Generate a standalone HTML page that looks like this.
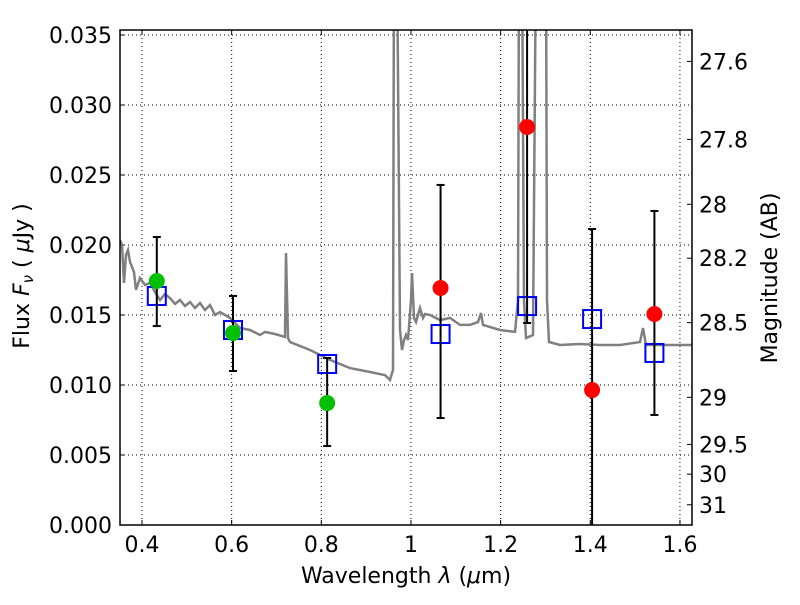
<!DOCTYPE html>
<html><head><meta charset="utf-8"><style>
body{margin:0;background:#fff;}
svg text{font-family:"DejaVu Sans","Liberation Sans",sans-serif;fill:#000;}
</style></head><body>
<svg id="chart" width="800" height="600" xmlns="http://www.w3.org/2000/svg"></svg>
<script>
const specLam=[];const specFlux=[];
const specPix=[[120,240],[122,245],[124,283],[126,255],[128,250],[130,262],[134,272],[136,290],[140,278],[145,285],[150,283],[155,292],[160,300],[165,294],[170,298],[175,304],[180,300],[185,306],[190,302],[195,308],[200,303],[205,310],[210,305],[215,315],[220,312],[230,318],[240,328],[250,330],[260,335],[265,332],[275,334],[285,337],[286,253],[288,338],[290,342],[310,350],[330,360],[350,368],[370,372],[385,375],[390,380],[393,370],[394,-50],[397,-50],[399,200],[400,330],[402,350],[404,340],[406,335],[408,340],[411,300],[412,273],[414,318],[416,322],[420,308],[423,318],[425,314],[430,315],[440,320],[450,318],[460,325],[470,325],[478,322],[481,313],[483,325],[500,330],[515,332],[518,300],[519,-50],[522,-50],[524,300],[526,338],[533,335],[536,-50],[546,-50],[547,300],[549,342],[560,345],[580,344],[600,345],[620,345],[640,342],[643,328],[646,345],[660,345],[692,345]];
specPix.forEach(p=>{specLam.push(+(0.4+(p[0]-142)/448.3).toFixed(4));specFlux.push(+((525-p[1])/14000).toFixed(5));});
const obsLam=[0.433,0.603,0.813,1.066,1.259,1.404,1.543];
const obsFlux=[0.01743,0.01371,0.00871,0.01693,0.02843,0.00964,0.01507];
const obsHi=[0.02057,0.01636,0.01193,0.02429,0.045,0.02114,0.02243];
const obsLo=[0.01421,0.0110,0.00564,0.00764,0.01443,-0.002,0.00786];
const obsColor=["#00c000","#00c000","#00c000","#ff0000","#ff0000","#ff0000","#ff0000"];
const modelFlux=[0.01636,0.01393,0.0115,0.01364,0.01564,0.01471,0.01229];
const xTicks=[0.4,0.6,0.8,1.0,1.2,1.4,1.6];
const xTickLabels=["0.4","0.6","0.8","1","1.2","1.4","1.6"];
const yTicks=[0,0.005,0.01,0.015,0.02,0.025,0.03,0.035];
const magTicks=[27.6,27.8,28,28.2,28.5,29,29.5,30,31];

const L=120,R=692,T=30,B=525;
const X=l=>142+(l-0.4)*448.3;
const Y=f=>525-f*14000;
const svg=document.getElementById('chart');
const NS="http://www.w3.org/2000/svg";
function mk(tag,at,parent){const e=document.createElementNS(NS,tag);for(const k in at)e.setAttribute(k,at[k]);(parent||svg).appendChild(e);return e;}
const defs=mk('defs',{});const cp=mk('clipPath',{id:'clip'},defs);mk('rect',{x:L,y:T,width:R-L,height:B-T},cp);
xTicks.forEach((t,i)=>{const g=mk('line',{x1:X(t),x2:X(t),y1:T,y2:B,stroke:'#000','stroke-dasharray':'1,3','stroke-width':1});

const tx=mk('text',{x:X(t),y:552,'font-size':22,'text-anchor':'middle'});tx.textContent=xTickLabels[i];

mk('line',{x1:X(t),x2:X(t),y1:B,y2:B-5,stroke:'#000'});mk('line',{x1:X(t),x2:X(t),y1:T,y2:T+5,stroke:'#000'});});
yTicks.forEach(t=>{const g=mk('line',{x1:L,x2:R,y1:Y(t),y2:Y(t),stroke:'#000','stroke-dasharray':'1,3','stroke-width':1});

const tx=mk('text',{x:112,y:Y(t)+8,'font-size':22,'text-anchor':'end'});tx.textContent=t.toFixed(3);

mk('line',{x1:L,x2:L+5,y1:Y(t),y2:Y(t),stroke:'#000'});});
const gPlot=mk('g',{'clip-path':'url(#clip)'});
let d='';specLam.forEach((l,i)=>{d+=(i?'L':'M')+X(l).toFixed(1)+','+Y(specFlux[i]).toFixed(1);});
const sp=mk('path',{d:d,fill:'none',stroke:'#808080','stroke-width':2.5},gPlot);

modelFlux.forEach((f,i)=>{const r=mk('rect',{x:X(obsLam[i])-9,y:Y(f)-9,width:18,height:18,fill:'none',stroke:'#0000ff','stroke-width':2},gPlot);
});
obsLam.forEach((l,i)=>{const x=X(l);
const e=mk('line',{x1:x,x2:x,y1:Y(obsHi[i]),y2:Y(obsLo[i]),stroke:'#000','stroke-width':2},gPlot);

mk('line',{x1:x-4,x2:x+4,y1:Y(obsHi[i]),y2:Y(obsHi[i]),stroke:'#000','stroke-width':2},gPlot);
mk('line',{x1:x-4,x2:x+4,y1:Y(obsLo[i]),y2:Y(obsLo[i]),stroke:'#000','stroke-width':2},gPlot);
const c=mk('circle',{cx:x,cy:Y(obsFlux[i]),r:8,fill:obsColor[i]},gPlot);
});
const fr=mk('rect',{x:L,y:T,width:R-L,height:B-T,fill:'none',stroke:'#000','stroke-width':1.5});

magTicks.forEach(m=>{const y=Y(Math.pow(10,(23.9-m)/2.5));
mk('line',{x1:R-5,x2:R,y1:y,y2:y,stroke:'#000'});
const tx=mk('text',{x:699,y:y+8,'font-size':22});tx.textContent=String(m);
});
const xt=mk('text',{x:406,y:583,'font-size':22,'text-anchor':'middle'});xt.innerHTML='Wavelength  <tspan font-style="italic">λ</tspan> (<tspan font-style="italic">μ</tspan>m)';

const yt=mk('text',{x:0,y:0,'font-size':22,'text-anchor':'middle',transform:'translate(29,276) rotate(-90)'});yt.innerHTML='Flux  <tspan font-style="italic">F</tspan><tspan font-style="italic" font-size="15" dy="4">ν</tspan><tspan dy="-4">   ( </tspan><tspan font-style="italic">μ</tspan>Jy )';

const rt=mk('text',{x:0,y:0,'font-size':22,'text-anchor':'middle',transform:'translate(777,278) rotate(-90)'});rt.textContent='Magnitude (AB)';

</script>
</body></html>
